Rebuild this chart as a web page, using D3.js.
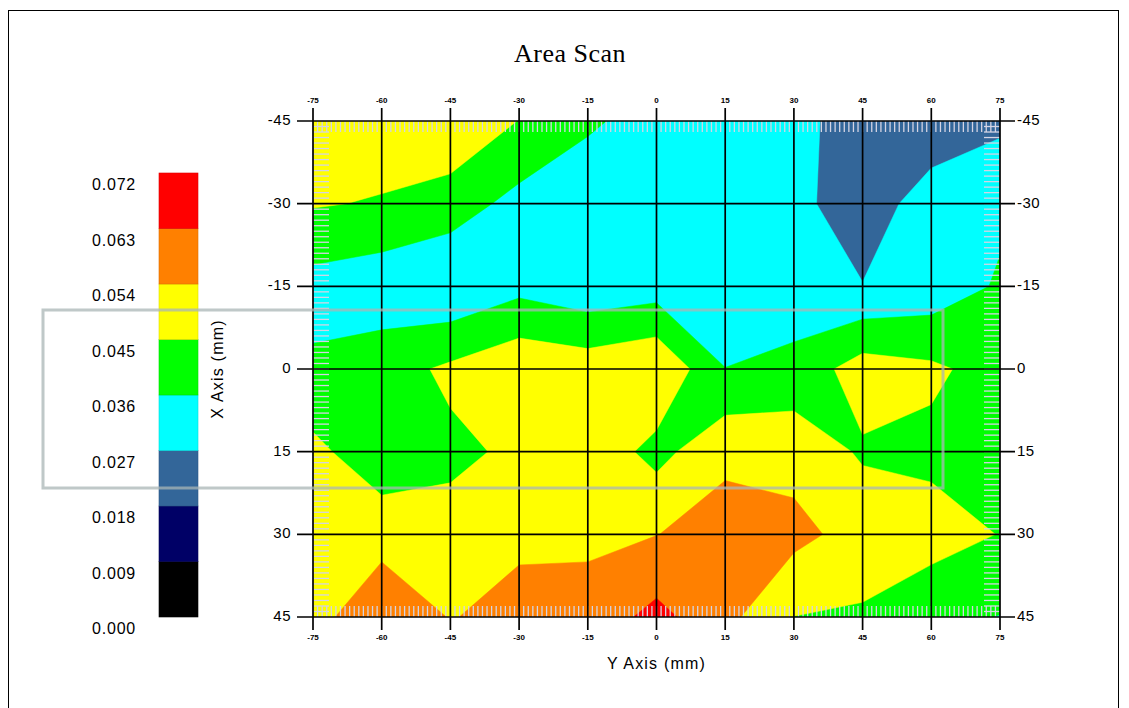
<!DOCTYPE html>
<html>
<head>
<meta charset="UTF-8">
<title>Area Scan</title>
<script src="https://d3js.org/d3.v7.min.js"></script>
<style>
  body { margin: 0; background: #fff; }
  svg { display: block; }
  text { font-family: "Liberation Sans", Arial, sans-serif; fill: #000; }
</style>
</head>
<body>
<svg width="1129" height="708"></svg>
<script>
// scan positions, mm
const horizMm = [-75, -60, -45, -30, -15, 0, 15, 30, 45, 60, 75];   // "Y Axis"
const vertMm = [-45, -30, -15, 0, 15, 30, 45];                      // "X Axis"

// contour levels and their fill colours (band starting at each level)
const levels = [0, 0.009, 0.018, 0.027, 0.036, 0.045, 0.054, 0.063, 0.072];
const levelLabels = ["0.000", "0.009", "0.018", "0.027", "0.036", "0.045", "0.054", "0.063", "0.072"];
const bandColors = ["#000000", "#000066", "#336699", "#00ffff", "#00ff00", "#ffff00", "#ff8000", "#ff0000"];

// measured values, one row per vertical position (-45 .. 45)
const row_m45 = [0.0486, 0.05028, 0.0531, 0.04473, 0.03745, 0.03209, 0.0315, 0.03033, 0.0216, 0.01962, 0.02511];
const row_m30 = [0.0457, 0.04428, 0.04041, 0.03312, 0.0297, 0.0306, 0.0315, 0.0301, 0.0207, 0.03258, 0.0342];
const row_m15 = [0.03258, 0.03018, 0.0279, 0.03339, 0.02961, 0.03168, 0.0324, 0.02952, 0.02736, 0.03033, 0.03708];
const row_0   = [0.03753, 0.04123, 0.04662, 0.05193, 0.05004, 0.05346, 0.03607, 0.03915, 0.04914, 0.04662, 0.0414];
const row_15  = [0.04734, 0.03899, 0.0432, 0.04649, 0.0513, 0.04203, 0.05202, 0.05067, 0.04392, 0.04284, 0.0423];
const row_30  = [0.0495, 0.0504, 0.04797, 0.0522, 0.0522, 0.05382, 0.05769, 0.05661, 0.0504, 0.04869, 0.04473];
const row_45  = [0.05058, 0.0612, 0.05355, 0.05706, 0.0576, 0.0657, 0.0567, 0.04491, 0.04383, 0.03861, 0.03573];
const scanRows = [row_m45, row_m30, row_m15, row_0, row_15, row_30, row_45];

const svg = d3.select("svg");

// frame
svg.append("rect")
    .attr("x", 8.5).attr("y", 10.5)
    .attr("width", 1110).attr("height", 720)
    .attr("fill", "none").attr("stroke", "#000").attr("stroke-width", 1);

// scales
const x = d3.scaleLinear().domain([-75, 75]).range([313, 1000]);
const y = d3.scaleLinear().domain([-45, 45]).range([121, 617]);

// contours on the scan grid
const nx = horizMm.length, ny = vertMm.length;
const values = scanRows.flat();
const contours = d3.contours()
    .size([nx, ny])
    .thresholds(levels.slice(0, -1))(values);

// grid cell centre i+0.5 sits on sample i
const gx = d3.scaleLinear().domain([0.5, nx - 0.5]).range([x(horizMm[0]), x(horizMm[nx - 1])]);
const gy = d3.scaleLinear().domain([0.5, ny - 0.5]).range([y(vertMm[0]), y(vertMm[ny - 1])]);
const path = d3.geoPath(d3.geoTransform({
    point: function(px, py) { this.stream.point(gx(px), gy(py)); }
}));

svg.append("clipPath").attr("id", "plotclip")
    .append("rect")
    .attr("x", x(-75)).attr("y", y(-45))
    .attr("width", x(75) - x(-75)).attr("height", y(45) - y(-45));

const plot = svg.append("g").attr("clip-path", "url(#plotclip)");

plot.selectAll("path.band")
    .data(contours)
    .enter().append("path")
    .attr("class", "band")
    .attr("d", path)
    .attr("fill", (d, i) => bandColors[i])
    .attr("stroke", (d, i) => bandColors[i])
    .attr("stroke-width", 0.5);

// light hatch marks along the plot edges, one per mm
const hatch = "#d4d4e4";
const mmX = d3.range(-74, 75, 1);
const mmY = d3.range(-44, 45, 1);
plot.selectAll("line.htop").data(mmX).enter().append("line")
    .attr("x1", d => x(d)).attr("x2", d => x(d))
    .attr("y1", y(-45)).attr("y2", y(-45) + 11)
    .attr("stroke", hatch).attr("stroke-width", 1.3);
plot.selectAll("line.hbot").data(mmX).enter().append("line")
    .attr("x1", d => x(d)).attr("x2", d => x(d))
    .attr("y1", y(45) - 11).attr("y2", y(45))
    .attr("stroke", hatch).attr("stroke-width", 1.3);
plot.selectAll("line.hleft").data(mmY).enter().append("line")
    .attr("x1", x(-75)).attr("x2", x(-75) + 16)
    .attr("y1", d => y(d)).attr("y2", d => y(d))
    .attr("stroke", hatch).attr("stroke-width", 1.3);
plot.selectAll("line.hright").data(mmY).enter().append("line")
    .attr("x1", x(75) - 16).attr("x2", x(75))
    .attr("y1", d => y(d)).attr("y2", d => y(d))
    .attr("stroke", hatch).attr("stroke-width", 1.3);

// grid lines, running past the plot as ticks
const ext = 13;
svg.selectAll("line.vgrid").data(horizMm).enter().append("line")
    .attr("x1", d => x(d)).attr("x2", d => x(d))
    .attr("y1", y(-45) - ext).attr("y2", y(45) + ext)
    .attr("stroke", "#000").attr("stroke-width", 1.7);
svg.selectAll("line.hgrid").data(vertMm).enter().append("line")
    .attr("x1", x(-75) - 16).attr("x2", x(75) + 15)
    .attr("y1", d => y(d)).attr("y2", d => y(d))
    .attr("stroke", "#000").attr("stroke-width", 1.7);

// tiny tick labels top and bottom
[y(-45) - 20, y(45) + 21].forEach(ty => {
    svg.selectAll(null).data(horizMm).enter().append("text")
        .attr("x", d => x(d)).attr("y", ty)
        .attr("text-anchor", "middle")
        .attr("dominant-baseline", "middle")
        .style("font-size", "8px").style("font-weight", "bold")
        .text(d => d);
});

// left and right tick labels
svg.selectAll("text.lt").data(vertMm).enter().append("text")
    .attr("x", x(-75) - 22).attr("y", d => y(d))
    .attr("text-anchor", "end").attr("dominant-baseline", "middle")
    .style("font-size", "15px").style("letter-spacing", "0.5px")
    .text(d => d);
svg.selectAll("text.rt").data(vertMm).enter().append("text")
    .attr("x", x(75) + 17).attr("y", d => y(d))
    .attr("text-anchor", "start").attr("dominant-baseline", "middle")
    .style("font-size", "15px").style("letter-spacing", "0.5px")
    .text(d => d);

// titles
svg.append("text")
    .attr("x", 570).attr("y", 62)
    .attr("text-anchor", "middle")
    .style("font-family", "'Liberation Serif', 'Times New Roman', serif")
    .style("font-size", "26px").style("letter-spacing", "0.5px")
    .text("Area Scan");
svg.append("text")
    .attr("x", x(0)).attr("y", 669)
    .attr("text-anchor", "middle")
    .style("font-size", "16px").style("letter-spacing", "1.2px")
    .text("Y Axis (mm)");
svg.append("text")
    .attr("transform", `translate(223,${y(0)}) rotate(-90)`)
    .attr("text-anchor", "middle")
    .style("font-size", "16px").style("letter-spacing", "1.2px")
    .text("X Axis (mm)");

// colour legend
const ly = d3.scaleLinear().domain([0, 0.072]).range([617, 173]);
const bands = bandColors.map((c, i) => ({ lo: levels[i], hi: levels[i + 1], c: c }));
svg.selectAll("rect.leg").data(bands).enter().append("rect")
    .attr("x", 159).attr("width", 39)
    .attr("y", d => ly(d.hi)).attr("height", d => ly(d.lo) - ly(d.hi))
    .attr("fill", d => d.c)
    .attr("stroke", d => d3.color(d.c).darker(0.4))
    .attr("stroke-width", 0.6);
svg.selectAll("text.leg").data(levels).enter().append("text")
    .attr("x", 92).attr("y", d => ly(d) + 13)
    .attr("dominant-baseline", "middle")
    .style("font-size", "16px").style("letter-spacing", "0.8px")
    .text((d, i) => levelLabels[i]);

// grey selection box left over the chart
svg.append("rect")
    .attr("x", 43).attr("y", 310)
    .attr("width", 900).attr("height", 178)
    .attr("fill", "none")
    .attr("stroke", "#a9b6b6").attr("stroke-opacity", 0.75)
    .attr("stroke-width", 3);
</script>
</body>
</html>
